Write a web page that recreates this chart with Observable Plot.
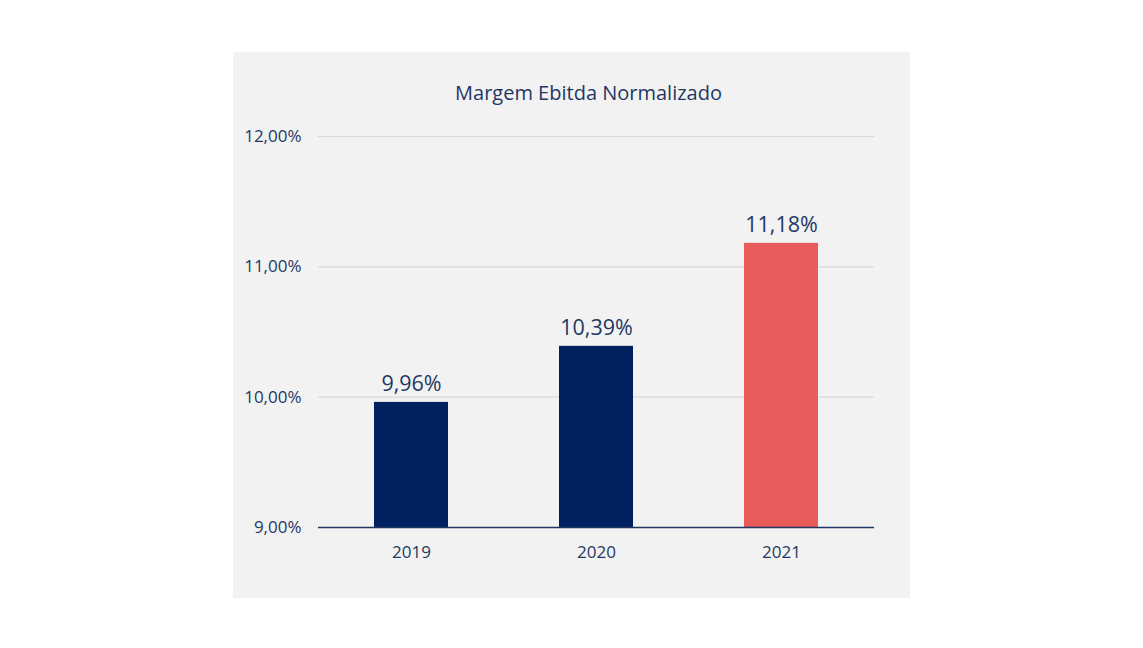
<!DOCTYPE html>
<html>
<head>
<meta charset="utf-8">
<script src="https://cdn.jsdelivr.net/npm/d3@7"></script>
<script src="https://cdn.jsdelivr.net/npm/@observablehq/plot@0.6"></script>
<style>
  html, body { margin: 0; padding: 0; background: #ffffff; }
  body { width: 1143px; height: 648px; position: relative; overflow: hidden; font-family: "Open Sans", sans-serif; }
  #panel { position: absolute; left: 233px; top: 52px; width: 677px; height: 546px; background: #f2f2f2; }
  #title { position: absolute; left: 17px; top: 27px; width: 677px; text-align: center; font-size: 20px; color: #1f3864; }
  #chart { position: absolute; left: 0; top: 0; }
</style>
</head>
<body>
<div id="panel">
  <div id="chart"></div>
  <div id="title">Margem Ebitda Normalizado</div>
</div>
<script>
const years = ["2019", "2020", "2021"];
const margins = [9.96, 10.39, 11.18];
const barColors = ["#002060", "#002060", "#e95b5b"];
const yTicks = [9, 10, 11, 12];

const data = years.map((y, i) => ({year: y, value: margins[i], color: barColors[i]}));
const fmt = v => v.toFixed(2).replace(".", ",") + "%";
const navy = "#1f3864";

const chart = Plot.plot({
  width: 677,
  height: 546,
  marginTop: 84,
  marginBottom: 71,
  marginLeft: 85,
  marginRight: 36,
  style: {background: "transparent", fontFamily: "'Open Sans', sans-serif", color: navy},
  x: {domain: years, paddingInner: 0.6, paddingOuter: 0.3, label: null},
  y: {domain: [9, 12], label: null},
  marks: [
    Plot.gridY(yTicks.filter(t => t > 9), {stroke: "#d9d9d9", strokeOpacity: 1, strokeWidth: 1.2}),
    Plot.barY(data, {x: "year", y1: 9, y2: "value", fill: "color"}),
    Plot.ruleY([9], {stroke: navy, strokeWidth: 1.5}),
    Plot.text(data, {x: "year", y: "value", text: d => fmt(d.value), lineAnchor: "bottom", dy: -11, fontSize: 21.5, fill: navy}),
    Plot.axisX({tickSize: 0, tickPadding: 18, fontSize: 17, fill: navy, label: null}),
    Plot.axisY({ticks: yTicks, tickFormat: fmt, tickSize: 0, tickPadding: 17, fontSize: 17, fill: navy, label: null})
  ]
});
document.getElementById("chart").appendChild(chart);
</script>
</body>
</html>
